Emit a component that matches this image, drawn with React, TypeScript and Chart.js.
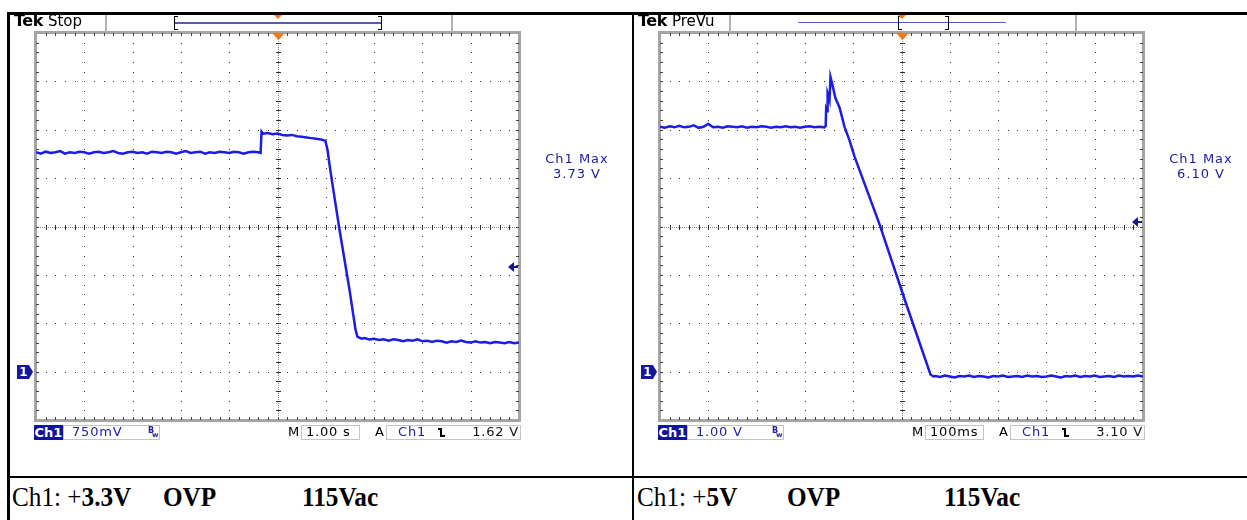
import React, { useEffect, useRef } from "react";
import { Chart, registerables } from "chart.js";

Chart.register(...registerables);

// ---------------- DATA ----------------
// Left capture: +3.3V rail, 750 mV/div, 1.00 s/div (time in s, value in V)
const leftTime = [
  -5.0, -4.9, -4.8, -4.7, -4.6, -4.5, -4.4, -4.3, -4.2, -4.1,
  -4.0, -3.9, -3.8, -3.7, -3.6, -3.5, -3.4, -3.3, -3.2, -3.1,
  -3.0, -2.9, -2.8, -2.7, -2.6, -2.5, -2.4, -2.3, -2.2, -2.1,
  -2.0, -1.9, -1.8, -1.7, -1.6, -1.5, -1.4, -1.3, -1.2, -1.1,
  -1.0, -0.9, -0.8, -0.7, -0.6, -0.5, -0.4,
  -0.35, -0.33, -0.3, -0.2, -0.1, 0.0, 0.1, 0.2, 0.3, 0.4, 0.5, 0.6, 0.7, 0.8, 0.9, 0.99,
  1.035, 1.077, 1.139, 1.284, 1.491, 1.615, 1.656, 1.74, 1.8,
  1.9, 2.0, 2.1, 2.2, 2.3, 2.4, 2.5, 2.6, 2.7, 2.8,
  2.9, 3.0, 3.1, 3.2, 3.3, 3.4, 3.5, 3.6, 3.7, 3.8,
  3.9, 4.0, 4.1, 4.2, 4.3, 4.4, 4.5, 4.6, 4.7, 4.8,
  4.9, 5.0,
];
const leftVolts = [
  3.40, 3.38, 3.41, 3.39, 3.40, 3.42, 3.38, 3.40, 3.39, 3.41,
  3.40, 3.38, 3.40, 3.41, 3.39, 3.40, 3.42, 3.39, 3.38, 3.40,
  3.41, 3.39, 3.40, 3.38, 3.41, 3.40, 3.39, 3.41, 3.40, 3.38,
  3.40, 3.42, 3.39, 3.40, 3.41, 3.38, 3.40, 3.39, 3.41, 3.40,
  3.39, 3.41, 3.40, 3.38, 3.40, 3.41, 3.40,
  3.39, 3.72, 3.69, 3.70, 3.68, 3.69, 3.67, 3.66, 3.67, 3.65, 3.64, 3.63, 3.62, 3.61, 3.60, 3.58,
  3.44, 3.21, 2.90, 2.20, 1.27, 0.65, 0.54, 0.51, 0.52,
  0.50, 0.51, 0.49, 0.50, 0.48, 0.50, 0.49, 0.47, 0.49, 0.48,
  0.50, 0.47, 0.48, 0.46, 0.48, 0.47, 0.45, 0.47, 0.46, 0.48,
  0.46, 0.45, 0.47, 0.45, 0.46, 0.44, 0.46, 0.45, 0.44, 0.46,
  0.44, 0.45,
];

// Right capture: +5V rail, 1.00 V/div, 100 ms/div (time in ms, value in V)
const rightTime = [
  -500, -490, -480, -470, -460, -450, -440, -430, -420, -410,
  -400, -390, -380, -370, -360, -350, -340, -330, -320, -310,
  -300, -290, -280, -270, -260, -250, -240, -230, -220, -210,
  -200, -190, -180, -170, -160,
  -157, -156, -154, -153, -151, -149, -147, -143, -137, -128, -118, -108, -97, -46, 8, 60, 66,
  70, 80, 90, 100, 110, 120, 130, 140, 150, 160,
  170, 180, 190, 200, 210, 220, 230, 240, 250, 260,
  270, 280, 290, 300, 310, 320, 330, 340, 350, 360,
  370, 380, 390, 400, 410, 420, 430, 440, 450, 460,
  470, 480, 490, 500,
];
const rightVolts = [
  5.06, 5.04, 5.07, 5.05, 5.08, 5.05, 5.06, 5.09, 5.04, 5.06,
  5.12, 5.05, 5.06, 5.04, 5.07, 5.06, 5.05, 5.07, 5.04, 5.06,
  5.05, 5.07, 5.06, 5.04, 5.06, 5.05, 5.07, 5.05, 5.06, 5.04,
  5.06, 5.07, 5.05, 5.06, 5.05,
  5.08, 5.43, 5.38, 5.76, 5.70, 5.62, 6.09, 5.93, 5.66, 5.45, 5.06, 4.79, 4.44, 3.06, 1.45, -0.06, -0.10,
  -0.09, -0.11, -0.08, -0.10, -0.12, -0.09, -0.10, -0.08, -0.11, -0.09,
  -0.10, -0.12, -0.09, -0.10, -0.08, -0.11, -0.10, -0.09, -0.11, -0.08,
  -0.10, -0.09, -0.11, -0.10, -0.08, -0.10, -0.12, -0.09, -0.10, -0.08,
  -0.11, -0.09, -0.10, -0.08, -0.11, -0.10, -0.09, -0.11, -0.08, -0.10,
  -0.09, -0.10, -0.08, -0.10,
];

// Scope settings / labels
const leftRange = { xMin: -5, xMax: 5, yMin: -0.75, yMax: 5.25, trig: 1.62 };
const rightRange = { xMin: -500, xMax: 500, yMin: -1, yMax: 7, trig: 3.1 };
const leftLabels = { mode: "Stop", max: "3.73 V", vdiv: "750mV", tdiv: "1.00 s", trig: "1.62 V" };
const rightLabels = { mode: "PreVu", max: "6.10 V", vdiv: "1.00 V", tdiv: "100ms", trig: "3.10 V" };
const leftCaption = { rail: "3.3V", test: "OVP", input: "115Vac" };
const rightCaption = { rail: "5V", test: "OVP", input: "115Vac" };

// ---------------- STYLE ----------------
const SF = '"DejaVu Sans", sans-serif';
const TRACE = "#1c1ce4";
const MARK = "#16169c";
const TXTBLUE = "#1c1c9c";
const ORANGE = "#f07a1c";

const graticule = {
  id: "graticule",
  beforeDatasetsDraw(chart: any) {
    const { ctx, chartArea: a } = chart;
    const L = Math.round(a.left), T = Math.round(a.top), R = Math.round(a.right), B = Math.round(a.bottom);
    const W = R - L, H = B - T;
    const dx = W / 10, dy = H / 8;
    ctx.save();
    // dots on major lines
    ctx.fillStyle = "#333333";
    for (let i = 1; i < 10; i++) {
      const x = Math.round(L + i * dx);
      if (i === 5) continue;
      for (let j = 1; j < 40; j++) ctx.fillRect(x, Math.round(T + (j * dy) / 5), 1, 1);
    }
    for (let j = 1; j < 8; j++) {
      const y = Math.round(T + j * dy);
      if (j === 4) continue;
      for (let i = 1; i < 50; i++) ctx.fillRect(Math.round(L + (i * dx) / 5), y, 1, 1);
    }
    // center lines: dense dots + ticks
    const cx = Math.round(L + 5 * dx), cy = Math.round(T + 4 * dy);
    ctx.fillStyle = "#8a8a8a";
    for (let y = T; y < B; y += 2) ctx.fillRect(cx, y, 1, 1);
    for (let x = L; x < R; x += 2) ctx.fillRect(x, cy, 1, 1);
    ctx.fillStyle = "#303030";
    for (let j = 1; j < 40; j++) ctx.fillRect(cx - 2, Math.round(T + (j * dy) / 5), 5, 1);
    for (let i = 1; i < 50; i++) ctx.fillRect(Math.round(L + (i * dx) / 5), cy - 2, 1, 5);
    // border
    ctx.fillStyle = "#a4a4a4";
    ctx.fillRect(L - 2, T - 2, W + 4, 3);
    ctx.fillRect(L - 2, B - 1, W + 4, 3);
    ctx.fillRect(L - 2, T - 2, 3, H + 4);
    ctx.fillRect(R - 1, T - 2, 3, H + 4);
    ctx.fillStyle = "#404040";
    for (let i = 1; i < 50; i++) {
      const x = Math.round(L + (i * dx) / 5);
      ctx.fillRect(x, T, 1, 3);
      ctx.fillRect(x, B - 3, 1, 3);
    }
    for (let j = 1; j < 40; j++) {
      const y = Math.round(T + (j * dy) / 5);
      ctx.fillRect(L, y, 3, 1);
      ctx.fillRect(R - 3, y, 3, 1);
    }
    ctx.restore();
  },
  afterDraw(chart: any, _args: any, opts: any) {
    const { ctx, chartArea: a, scales } = chart;
    ctx.save();
    // ground marker
    const gy = Math.round(scales.y.getPixelForValue(0));
    const gl = Math.round(a.left) - 19;
    ctx.fillStyle = MARK;
    ctx.beginPath();
    ctx.moveTo(gl, gy - 7);
    ctx.lineTo(gl + 12, gy - 7);
    ctx.lineTo(gl + 16, gy);
    ctx.lineTo(gl + 12, gy + 7);
    ctx.lineTo(gl, gy + 7);
    ctx.closePath();
    ctx.fill();
    ctx.fillStyle = "#ffffff";
    ctx.font = `bold 12px ${SF}`;
    ctx.textAlign = "center";
    ctx.textBaseline = "middle";
    ctx.fillText("1", gl + 6.5, gy + 1);
    // trigger level arrow
    const ty = Math.round(scales.y.getPixelForValue(opts.trig));
    const r = Math.round(a.right);
    ctx.fillStyle = MARK;
    ctx.beginPath();
    ctx.moveTo(r - 11, ty);
    ctx.lineTo(r - 5, ty - 5);
    ctx.lineTo(r - 5, ty + 5);
    ctx.closePath();
    ctx.fill();
    ctx.fillRect(r - 6, ty - 1, 5, 2);
    // trigger position marker
    const cx = Math.round(scales.x.getPixelForValue(0));
    const t = Math.round(a.top);
    ctx.fillStyle = ORANGE;
    ctx.beginPath();
    ctx.moveTo(cx - 6, t);
    ctx.lineTo(cx + 7, t);
    ctx.lineTo(cx + 0.5, t + 7);
    ctx.closePath();
    ctx.fill();
    ctx.restore();
  },
};

type ScopeProps = {
  dx: number;
  time: number[];
  volts: number[];
  range: { xMin: number; xMax: number; yMin: number; yMax: number; trig: number };
  labels: { mode: string; max: string; vdiv: string; tdiv: string; trig: string };
  rec: { lineL: number; lineR: number; lineH: number; brL: number; brR: number; trigX: number };
};

const abs = (o: any): React.CSSProperties => ({ position: "absolute", ...o });

function Bracket({ x, open }: { x: number; open: boolean }) {
  return (
    <>
      <div style={abs({ left: x, top: 16, width: 1, height: 14, background: "#000" })} />
      <div style={abs({ left: open ? x : x - 3, top: 16, width: 4, height: 1, background: "#000" })} />
      <div style={abs({ left: open ? x : x - 3, top: 29, width: 4, height: 1, background: "#000" })} />
    </>
  );
}

function Scope({ dx, time, volts, range, labels, rec }: ScopeProps) {
  const ref = useRef<HTMLCanvasElement | null>(null);
  useEffect(() => {
    if (!ref.current) return;
    const pts = time.map((t, i) => ({ x: t, y: volts[i] }));
    const chart = new Chart(ref.current, {
      type: "line",
      data: {
        datasets: [
          {
            data: pts,
            borderColor: TRACE,
            borderWidth: 2.5,
            pointRadius: 0,
            tension: 0,
            fill: false,
          },
        ],
      },
      options: {
        animation: false,
        responsive: false,
        maintainAspectRatio: false,
        devicePixelRatio: 1,
        events: [],
        layout: { padding: { left: 24, top: 17, right: 109, bottom: 36 } },
        scales: {
          x: { type: "linear", min: range.xMin, max: range.xMax, display: false },
          y: { type: "linear", min: range.yMin, max: range.yMax, display: false },
        },
        plugins: {
          legend: { display: false },
          tooltip: { enabled: false },
          graticule: { trig: range.trig },
        } as any,
      },
      plugins: [graticule],
    });
    return () => chart.destroy();
  }, []);

  const st = { font: `13px ${SF}`, lineHeight: "14px", whiteSpace: "nowrap" as const };
  const box = { top: 425, height: 15, border: "1px solid #c4c4c4", boxSizing: "border-box" as const };

  return (
    <>
      <canvas ref={ref} width={616} height={440} style={abs({ left: 12 + dx, top: 16, width: 616, height: 440 })} />
      {/* header */}
      <div style={abs({ left: 14 + dx, top: 12, font: `16px ${SF}`, lineHeight: "18px", color: "#000", whiteSpace: "nowrap" })}>
        <span style={{ fontWeight: "bold", letterSpacing: "-0.5px" }}>Tek</span>{" "}
        <span style={{ fontSize: "15px" }}>{labels.mode}</span>
      </div>
      <div style={abs({ left: 105 + dx, top: 15, width: 2, height: 17, background: "#b4b4b4" })} />
      <div style={abs({ left: 451 + dx, top: 15, width: 2, height: 17, background: "#b4b4b4" })} />
      {/* record bar */}
      <div style={abs({ left: rec.lineL + dx, top: 22, width: rec.lineR - rec.lineL, height: rec.lineH, background: "#5858bc" })} />
      <Bracket x={rec.brL + dx} open={true} />
      <Bracket x={rec.brR + dx} open={false} />
      <div
        style={abs({
          left: rec.trigX - 4 + dx,
          top: 15,
          width: 0,
          height: 0,
          borderLeft: "4px solid transparent",
          borderRight: "4px solid transparent",
          borderTop: `4px solid ${ORANGE}`,
        })}
      />
      {/* measurement readout */}
      <div style={abs({ left: 537 + dx, top: 151, width: 80, textAlign: "center", font: `13px ${SF}`, lineHeight: "15px", letterSpacing: "1px", color: TXTBLUE })}>
        Ch1 Max
        <br />
        {labels.max}
      </div>
      {/* status bar */}
      <div style={abs({ left: 34 + dx, top: 425, width: 29, height: 15, background: "#14149a", color: "#fff", font: `bold 13px ${SF}`, lineHeight: "15px", textAlign: "center" })}>
        Ch1
      </div>
      <div style={abs({ left: 63 + dx, width: 97, ...box })} />
      <div style={abs({ left: 72 + dx, top: 425, ...st, color: "#2222a6", letterSpacing: "0.8px" })}>{labels.vdiv}</div>
      <div style={abs({ left: 148 + dx, top: 426, font: `bold 8px ${SF}`, color: "#2222a6" })}>B</div>
      <div style={abs({ left: 152 + dx, top: 431, font: `bold 7px ${SF}`, color: "#2222a6" })}>w</div>
      <div style={abs({ left: 288 + dx, top: 425, ...st, color: "#000" })}>M</div>
      <div style={abs({ left: 301 + dx, width: 59, ...box })} />
      <div style={abs({ left: 306 + dx, top: 425, ...st, color: "#000", letterSpacing: "0.8px" })}>{labels.tdiv}</div>
      <div style={abs({ left: 375 + dx, top: 425, ...st, color: "#000" })}>A</div>
      <div style={abs({ left: 386 + dx, width: 135, ...box })} />
      <div style={abs({ left: 398 + dx, top: 425, ...st, color: "#2222a6", letterSpacing: "0.8px" })}>Ch1</div>
      <div style={abs({ left: 438 + dx, top: 428, width: 3, height: 0, borderTop: "2px solid #000" })} />
      <div style={abs({ left: 440 + dx, top: 428, width: 2, height: 9, background: "#000" })} />
      <div style={abs({ left: 441 + dx, top: 435, width: 4, height: 2, background: "#000" })} />
      <div style={abs({ left: 420 + dx, top: 425, width: 99, textAlign: "right", ...st, color: "#111", letterSpacing: "0.8px" })}>{labels.trig}</div>
    </>
  );
}

function Caption({ x, rail, test, input, testX, inputX }: { x: number; rail: string; test: string; input: string; testX: number; inputX: number }) {
  const f = { font: '28px "Liberation Serif", serif', lineHeight: "32px", color: "#000", whiteSpace: "nowrap" as const, transform: "scaleX(0.9)", transformOrigin: "left top" };
  return (
    <>
      <div style={abs({ left: x, top: 481, ...f })}>
        Ch1: +<b>{rail}</b>
      </div>
      <div style={abs({ left: testX, top: 481, ...f, fontWeight: "bold" })}>{test}</div>
      <div style={abs({ left: inputX, top: 481, ...f, fontWeight: "bold" })}>{input}</div>
    </>
  );
}

export default function App() {
  return (
    <div style={{ position: "fixed", left: 0, top: 0, width: 1247, height: 520, background: "#fff", overflow: "hidden" }}>
      <Scope
        dx={0}
        time={leftTime}
        volts={leftVolts}
        range={leftRange}
        labels={leftLabels}
        rec={{ lineL: 175, lineR: 381, lineH: 2, brL: 174, brR: 381, trigX: 278 }}
      />
      <Scope
        dx={624}
        time={rightTime}
        volts={rightVolts}
        range={rightRange}
        labels={rightLabels}
        rec={{ lineL: 174, lineR: 382, lineH: 1, brL: 274, brR: 324, trigX: 278 }}
      />
      {/* document table frame */}
      <div style={abs({ left: 7, top: 12, width: 1240, height: 3, background: "#000" })} />
      <div style={abs({ left: 7, top: 12, width: 3, height: 508, background: "#000" })} />
      <div style={abs({ left: 632, top: 12, width: 2, height: 508, background: "#000" })} />
      <div style={abs({ left: 7, top: 476, width: 1240, height: 2, background: "#000" })} />
      <Caption x={12} rail={leftCaption.rail} test={leftCaption.test} input={leftCaption.input} testX={163} inputX={302} />
      <Caption x={637} rail={rightCaption.rail} test={rightCaption.test} input={rightCaption.input} testX={787} inputX={944} />
    </div>
  );
}
